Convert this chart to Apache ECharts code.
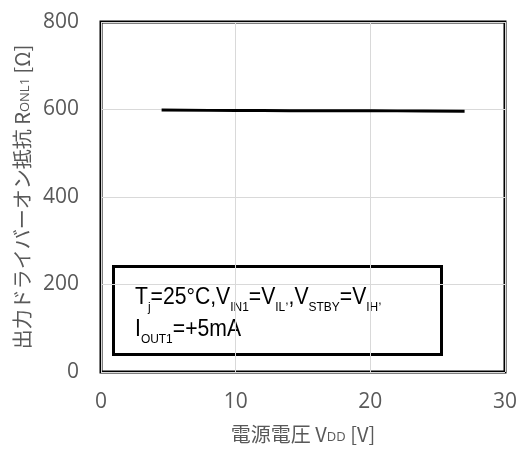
<!DOCTYPE html>
<html><head><meta charset="utf-8">
<script src="https://cdn.jsdelivr.net/npm/echarts@6/dist/echarts.min.js"></script>
<style>html,body{margin:0;padding:0;background:#fff}#c{width:520px;height:453px}</style>
</head><body><div id="c"></div>
<script>
const vdd = [4.5, 8, 12, 16, 20, 24, 27];
const ron = [599, 598, 597.5, 597, 597, 596.5, 596];
const xMin = 0, xMax = 30, xStep = 10;
const yMin = 0, yMax = 800, yStep = 200;

const chart = echarts.init(document.getElementById('c'), null, {renderer: 'canvas'});
const tickFont = {color: '#595959', fontSize: 21, fontFamily: 'Open Sans'};
const nameFont = 'Noto Sans CJK JP';
const subRich = {s: {fontSize: 13, color: '#595959', fontFamily: 'Open Sans', verticalAlign: 'bottom', lineHeight: 14}};
const boxRich = {
  n: {fontSize: 23, fontFamily: 'Liberation Sans', fill: '#000', lineHeight: 23, verticalAlign: 'top'},
  s: {fontSize: 13, fontFamily: 'Liberation Sans', fill: '#000', lineHeight: 13, verticalAlign: 'top', padding: [15, 0, 0, 0]},
  c: {fontSize: 13, fontFamily: 'Liberation Sans', fill: '#000', lineHeight: 13, verticalAlign: 'top', padding: [8, 0, 0, 0]}
};
chart.setOption({
  animation: false,
  backgroundColor: '#fff',
  grid: {left: 101, right: 15, top: 22, bottom: 81, show: true, borderColor: '#000', borderWidth: 3, backgroundColor: 'transparent'},
  xAxis: {
    type: 'value', min: xMin, max: xMax, interval: xStep,
    axisLine: {show: false}, axisTick: {show: false},
    splitLine: {show: true, lineStyle: {color: '#d9d9d9', width: 1}},
    axisLabel: Object.assign({margin: 20}, tickFont),
    name: '電源電圧 V{s|DD} [V]', nameLocation: 'middle', nameGap: 52,
    nameTextStyle: {color: '#595959', fontSize: 20, fontFamily: nameFont, rich: subRich}
  },
  yAxis: {
    type: 'value', min: yMin, max: yMax, interval: yStep,
    axisLine: {show: false}, axisTick: {show: false},
    splitLine: {show: true, lineStyle: {color: '#d9d9d9', width: 1}},
    axisLabel: Object.assign({margin: 22}, tickFont),
    name: '出力ドライバーオン抵抗 R{s|ONL1} [Ω]', nameLocation: 'middle', nameGap: 69, nameRotate: 90,
    nameTextStyle: {color: '#595959', fontSize: 20, fontFamily: nameFont, rich: subRich}
  },
  series: [{
    type: 'line', data: vdd.map((v, i) => [v, ron[i]]), showSymbol: false, smooth: true,
    lineStyle: {color: '#000', width: 3}
  }],
  graphic: [
    {type: 'rect', left: 112, top: 265, shape: {width: 328, height: 88}, style: {fill: '#fff', stroke: '#000', lineWidth: 3}},
    {type: 'text', left: 135, top: 286, scaleX: 0.92, style: {
      text: '{n|T}{s|j}{n|=25°C,V}{s|IN1}{n|=V}{s|IL}{c|,}{n|,V}{s|STBY}{n|=V}{s|IH}{c|,}',
      rich: boxRich}},
    {type: 'text', left: 135, top: 318, scaleX: 0.92, style: {
      text: '{n|I}{s|OUT1}{n|=+5mA}',
      rich: boxRich}}
  ]
});
</script></body></html>
